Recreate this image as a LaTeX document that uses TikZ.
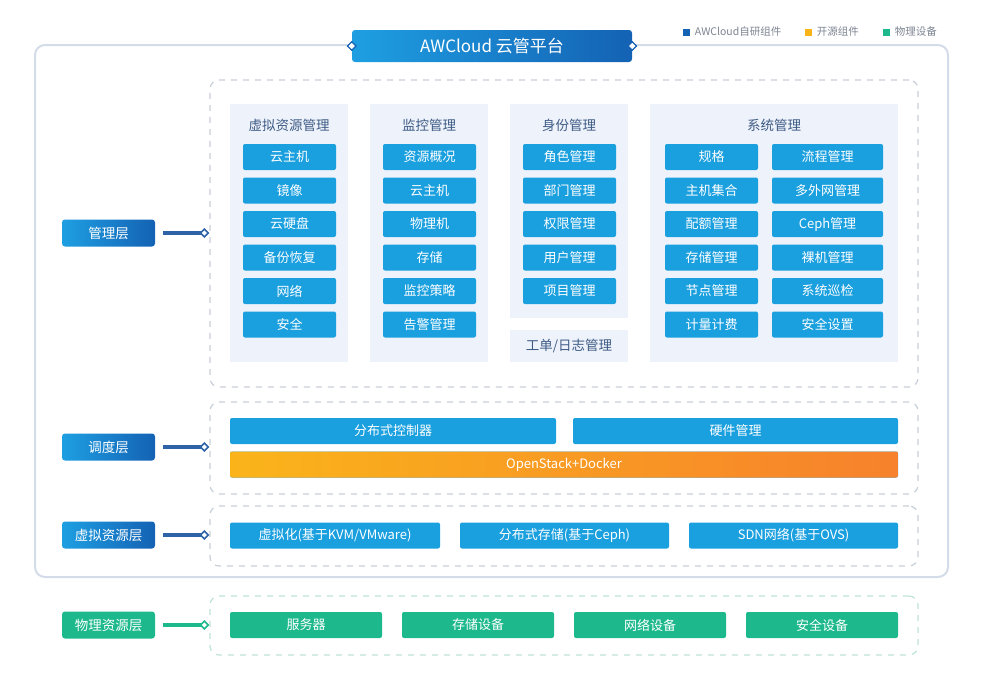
\documentclass[tikz,border=0pt]{standalone}
\usepackage{fontspec}
\setmainfont{Noto Sans CJK SC}
\usetikzlibrary{arrows.meta, positioning, shapes.geometric}
\usepackage{xcolor}
\definecolor{itemblue}{HTML}{1A9FDF}
\definecolor{lblblue}{HTML}{1E9FE2}
\definecolor{lbldark}{HTML}{1462B4}
\definecolor{linkblue}{HTML}{2F63A8}
\definecolor{physgreen}{HTML}{1DB98D}
\definecolor{ossorange}{HTML}{FAB41A}
\definecolor{ossdark}{HTML}{F7812C}
\definecolor{groupfill}{HTML}{EEF2FA}
\definecolor{grouptext}{HTML}{3E5C86}
\definecolor{framegray}{HTML}{D3DCE8}
\definecolor{dashgray}{HTML}{C9CFD8}
\definecolor{dashgreen}{HTML}{BFE3D8}
\definecolor{legendtext}{HTML}{7C8491}

\begin{document}
\begin{tikzpicture}[x=1pt, y=-1pt,
      item/.style={rectangle, rounded corners=2pt, fill=itemblue, text=white, minimum width=93pt, minimum height=26pt, inner sep=0pt, font=\fontsize{13}{15}\selectfont},
      wideitem/.style={item, minimum width=111pt},
      physitem/.style={item, fill=physgreen, minimum width=152pt},
      layer/.style={rectangle, rounded corners=3pt, left color=lblblue, right color=lbldark, text=white, minimum width=93pt, minimum height=27pt, inner sep=0pt, font=\fontsize{13.5}{15}\selectfont},
      group/.style={rectangle, fill=groupfill, inner sep=0pt, minimum width=118pt},
      grouptitle/.style={text=grouptext, font=\fontsize{13.5}{15}\selectfont},
      panel/.style={rectangle, draw=dashgray, line width=1.2pt, dash pattern=on 6pt off 6pt, rounded corners=9pt, minimum width=708pt, inner sep=0pt},
      link/.style={line width=3.5pt, linkblue, -{Diamond[length=10pt, width=10pt, fill=white, line width=1.6pt]}},
      legendbox/.style={rectangle, minimum size=7pt, inner sep=0pt},
      legendlabel/.style={text=legendtext, font=\fontsize{10.5}{12}\selectfont, anchor=west, inner sep=0pt},
    ]
    \useasboundingbox (0,0) rectangle (1006,675);

    % outer frame and title
    \draw[framegray, line width=2pt, rounded corners=10pt] (35,45) rectangle (948,577);
    \node[rectangle, rounded corners=3pt, left color=lblblue, right color=lbldark, text=white, minimum width=280pt, minimum height=32pt, font=\fontsize{17}{19}\selectfont] (title) at (492,46) {AWCloud 云管平台};
    \node[diamond, draw=lbldark, fill=white, line width=1.2pt, minimum size=9pt, inner sep=0pt] (tl) at (title.west) {};
    \node[diamond, draw=lbldark, fill=white, line width=1.2pt, minimum size=9pt, inner sep=0pt] (tr) at (title.east) {};

    % legend
    \node[legendbox, fill=lbldark] (lg1) at (686,32) {};
    \node[legendlabel, right=5pt of lg1] (lt1) {AWCloud自研组件};
    \node[legendbox, fill=ossorange] (lg2) at (808,32) {};
    \node[legendlabel, right=5pt of lg2] (lt2) {开源组件};
    \node[legendbox, fill=physgreen] (lg3) at (886,32) {};
    \node[legendlabel, right=5pt of lg3] (lt3) {物理设备};

    % dashed panels
    \node[panel, minimum height=307pt] (mp) at (564,233.5) {};
    \node[panel, minimum height=92pt] (sp) at (564,448) {};
    \node[panel, minimum height=60pt] (vp) at (564,536) {};
    \node[panel, draw=dashgreen, minimum height=59pt] (pp) at (564,625.5) {};

    % layer labels
    \node[layer] (ml) at (108.5,233) {管理层};
    \node[layer] (sl) at (108.5,447) {调度层};
    \node[layer] (vl) at (108.5,535) {虚拟资源层};
    \node[layer, left color=physgreen, right color=physgreen] (pl) at (108.5,625) {物理资源层};

    \draw[link] ([xshift=8pt]ml.east) -- (ml.east -| mp.west);
    \draw[link] ([xshift=8pt]sl.east) -- (sl.east -| sp.west);
    \draw[link] ([xshift=8pt]vl.east) -- (vl.east -| vp.west);
    \draw[link, physgreen] ([xshift=8pt]pl.east) -- (pl.east -| pp.west);

    % management groups
    \node[group, minimum height=258pt] (g1) at (289,233) {};
    \node[group, minimum height=258pt] (g2) at (429,233) {};
    \node[group, minimum height=214pt] (g3) at (569,211) {};
    \node[group, minimum height=32pt] (g3b) at (569,346) {};
    \node[group, minimum width=248pt, minimum height=258pt] (g4) at (774,233) {};

    \node[grouptitle] (t1) at (289,125) {虚拟资源管理};
    \node[grouptitle] (t2) at (429,125) {监控管理};
    \node[grouptitle] (t3) at (569,125) {身份管理};
    \node[grouptitle] (t3b) at (569,346) {工单/日志管理};
    \node[grouptitle] (t4) at (774,125) {系统管理};

    \node[item] (v1) at (289.5,157) {云主机};
    \node[item] (v2) at (289.5,190.5) {镜像};
    \node[item] (v3) at (289.5,224) {云硬盘};
    \node[item] (v4) at (289.5,257.5) {备份恢复};
    \node[item] (v5) at (289.5,291) {网络};
    \node[item] (v6) at (289.5,324.5) {安全};

    \node[item] (m1) at (429.5,157) {资源概况};
    \node[item] (m2) at (429.5,190.5) {云主机};
    \node[item] (m3) at (429.5,224) {物理机};
    \node[item] (m4) at (429.5,257.5) {存储};
    \node[item] (m5) at (429.5,291) {监控策略};
    \node[item] (m6) at (429.5,324.5) {告警管理};

    \node[item] (i1) at (569.5,157) {角色管理};
    \node[item] (i2) at (569.5,190.5) {部门管理};
    \node[item] (i3) at (569.5,224) {权限管理};
    \node[item] (i4) at (569.5,257.5) {用户管理};
    \node[item] (i5) at (569.5,291) {项目管理};

    \node[item] (s1) at (711.5,157) {规格};
    \node[item] (s2) at (711.5,190.5) {主机集合};
    \node[item] (s3) at (711.5,224) {配额管理};
    \node[item] (s4) at (711.5,257.5) {存储管理};
    \node[item] (s5) at (711.5,291) {节点管理};
    \node[item] (s6) at (711.5,324.5) {计量计费};
    \node[wideitem] (r1) at (827.5,157) {流程管理};
    \node[wideitem] (r2) at (827.5,190.5) {多外网管理};
    \node[wideitem] (r3) at (827.5,224) {Ceph管理};
    \node[wideitem] (r4) at (827.5,257.5) {裸机管理};
    \node[wideitem] (r5) at (827.5,291) {系统巡检};
    \node[wideitem] (r6) at (827.5,324.5) {安全设置};

    % scheduling layer
    \node[item, minimum width=326pt] (dc) at (393,431) {分布式控制器};
    \node[item, minimum width=325pt] (hw) at (735.5,431) {硬件管理};
    \node[item, minimum width=668pt, left color=ossorange, right color=ossdark] (os) at (564,464.5) {OpenStack+Docker};

    % virtual resource layer
    \node[item, minimum width=210pt] (kvm) at (335,535.5) {虚拟化(基于KVM/VMware)};
    \node[item, minimum width=209pt] (ceph) at (564.5,535.5) {分布式存储(基于Ceph)};
    \node[item, minimum width=209pt] (sdn) at (793.5,535.5) {SDN网络(基于OVS)};

    % physical resource layer
    \node[physitem] (p1) at (306,625) {服务器};
    \node[physitem] (p2) at (478,625) {存储设备};
    \node[physitem] (p3) at (650,625) {网络设备};
    \node[physitem] (p4) at (822,625) {安全设备};
  \end{tikzpicture}
\end{document}
